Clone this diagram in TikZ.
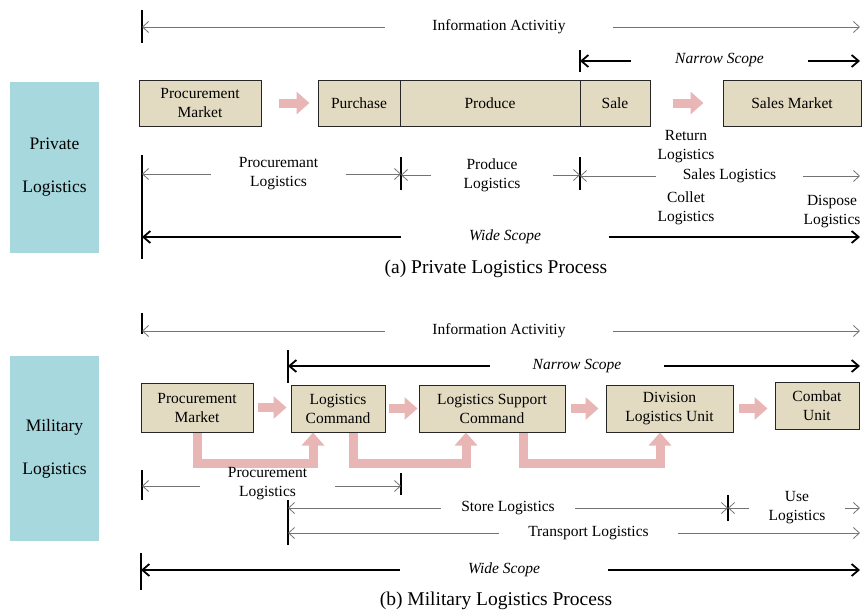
\documentclass[tikz,border=0pt]{standalone}
\usepackage{fontspec}
\setmainfont{Liberation Serif}
\usetikzlibrary{arrows.meta}
\definecolor{beige}{HTML}{E3DBC1}
\definecolor{tealbg}{HTML}{A6D8DE}
\definecolor{pinkarr}{HTML}{E9B6B6}
\newcommand\dfont{\fontsize{15.5}{19}\selectfont}
\newcommand\bigfont{\fontsize{17.5}{43}\selectfont}
\newcommand\capfont{\fontsize{19.5}{22}\selectfont}
\begin{document}
\begin{tikzpicture}[x=1pt,y=-1pt,
  box/.style={draw=black!85, line width=1pt, fill=beige, inner sep=0pt, align=center, font=\dfont},
  lab/.style={inner sep=0pt, align=center, font=\dfont},
  itlab/.style={inner sep=0pt, align=center, font=\dfont\itshape},
  sidebox/.style={fill=tealbg, inner sep=0pt, align=center, font=\bigfont, minimum width=89pt},
  dim/.style={draw=black!55, line width=0.8pt, -{Straight Barb[length=6pt,width=11pt]}},
  scopeline/.style={draw=black, line width=1.8pt, -{Straight Barb[length=7pt,width=12pt]}},
  tickline/.style={draw=black, line width=1.1pt},
  parr/.style={draw=pinkarr, line width=9pt, -{Triangle[length=13pt,width=22pt]}, line join=miter}
]
\useasboundingbox (0,0) rectangle (862,611);

% ================= (a) Private =================
\node[sidebox, minimum height=171pt] (priv) at (54.5,167.5) {Private\\Logistics};

% boxes
\node[box, minimum width=122pt, minimum height=46pt] (pm1) at (200,103) {Procurement\\Market};
\node[box, minimum width=82pt, minimum height=46pt] (pur) at (359,103) {Purchase};
\node[box, minimum width=180pt, minimum height=46pt] (pro) at (490,103) {Produce};
\node[box, minimum width=70pt, minimum height=46pt] (sal) at (615,103) {Sale};
\node[box, minimum width=138pt, minimum height=46pt] (sm) at (792,103) {Sales Market};

\draw[parr, shorten <=17pt, shorten >=8pt] (pm1.east) -- (pur.west);
\draw[parr, shorten <=22pt, shorten >=19pt] (sal.east) -- (sm.west);

% ticks
\draw[tickline] (142,10) -- (142,43);
\draw[tickline] (580,50) -- (580,72);
\draw[tickline] (142,155) -- (142,259);
\draw[tickline] (401,157) -- (401,190);
\draw[tickline] (580,157) -- (580,190);

% Information activity
\coordinate (a1L) at (142,27); \coordinate (a1R) at (860,27);
\node[lab, minimum width=228pt] (t1) at (499,27) {Information Activitiy};
\draw[dim] (t1.west) -- (a1L); \draw[dim] (t1.east) -- (a1R);

% Narrow scope
\coordinate (a2L) at (580,61); \coordinate (a2R) at (860,61);
\node[itlab, minimum width=177pt] (t2) at (719.5,60) {Narrow Scope};
\draw[scopeline] (t2.west|-a2L) -- (a2L); \draw[scopeline] (t2.east|-a2R) -- (a2R);

% Procuremant logistics
\coordinate (a3L) at (142,174); \coordinate (a3R) at (401,174);
\node[lab, minimum width=135pt] (t3) at (278.5,174) {Procuremant\\Logistics};
\draw[dim] (t3.west) -- (a3L); \draw[dim] (t3.east) -- (a3R);

% Produce logistics
\coordinate (a4L) at (401,175); \coordinate (a4R) at (580,175);
\node[lab, minimum width=121pt] (t4) at (492,175) {Produce\\Logistics};
\draw[dim] (t4.west) -- (a4L); \draw[dim] (t4.east) -- (a4R);

% Sales logistics
\coordinate (a5L) at (580,176); \coordinate (a5R) at (860,176);
\node[lab, minimum width=147pt] (t5) at (729.5,176) {Sales Logistics};
\draw[dim] (t5.west) -- (a5L); \draw[dim] (t5.east) -- (a5R);
\node[lab] (ret) at (686,147) {Return\\Logistics};
\node[lab] (col) at (686,208) {Collet\\Logistics};
\node[lab] (dis) at (832,212) {Dispose\\Logistics};

% Wide scope
\coordinate (a6L) at (142,237); \coordinate (a6R) at (860,237);
\node[itlab, minimum width=208pt] (t6) at (505,237) {Wide Scope};
\draw[scopeline] (t6.west) -- (a6L); \draw[scopeline] (t6.east) -- (a6R);

\node[inner sep=0pt, font=\capfont] (capa) at (496,269) {(a) Private Logistics Process};

% ================= (b) Military =================
\node[sidebox, minimum height=185pt] (mil) at (54.5,448.5) {Military\\Logistics};

\node[box, minimum width=112pt, minimum height=49pt] (pm2) at (197,407.5) {Procurement\\Market};
\node[box, minimum width=94pt, minimum height=47pt] (lc) at (338,408.5) {Logistics\\Command};
\node[box, minimum width=146pt, minimum height=47pt] (lsc) at (492,408.5) {Logistics Support\\Command};
\node[box, minimum width=127pt, minimum height=47pt] (dlu) at (669.5,408.5) {Division\\Logistics Unit};
\node[box, minimum width=84pt, minimum height=47pt] (cu) at (817,405.5) {Combat\\Unit};

\draw[parr, shorten <=4pt, shorten >=4pt] (pm2.east) -- (pm2.east -| lc.west);
\draw[parr, shorten <=3pt, shorten >=1pt] (lc.east) -- (lsc.west);
\draw[parr, shorten <=5pt, shorten >=7pt] (lsc.east) -- (dlu.west);
\draw[parr, shorten <=5pt, shorten >=7pt] (dlu.east) -- (dlu.east -| cu.west);

\draw[parr, shorten <=0.5pt] (pm2.south) -- ++(0,31) -| ([xshift=-25pt]lc.south);
\draw[parr, shorten <=0.5pt] ([xshift=15pt]lc.south) -- ++(0,31) -| ([xshift=-26pt]lsc.south);
\draw[parr, shorten <=0.5pt] ([xshift=31pt]lsc.south) -- ++(0,31) -| ([xshift=-9.5pt]dlu.south);

% ticks
\draw[tickline] (142,313) -- (142,334);
\draw[tickline] (288,350) -- (288,383);
\draw[tickline] (142,470) -- (142,500);
\draw[tickline] (401,473) -- (401,495);
\draw[tickline] (288,500) -- (288,545);
\draw[tickline] (728,495) -- (728,521);
\draw[tickline] (141,553) -- (141,590);

% Information activity
\coordinate (b1L) at (142,331); \coordinate (b1R) at (860,331);
\node[lab, minimum width=228pt] (u1) at (499,331) {Information Activitiy};
\draw[dim] (u1.west) -- (b1L); \draw[dim] (u1.east) -- (b1R);

% Narrow scope
\coordinate (b2L) at (288,366); \coordinate (b2R) at (860,366);
\node[itlab, minimum width=174pt] (u2) at (577,366) {Narrow Scope};
\draw[scopeline] (u2.west|-b2L) -- (b2L); \draw[scopeline] (u2.east|-b2R) -- (b2R);

% Procurement logistics
\coordinate (b3L) at (142,486); \coordinate (b3R) at (401,486);
\node[lab, minimum width=135pt] (u3) at (267.5,484) {Procurement\\Logistics};
\draw[dim] (u3.west|-b3L) -- (b3L); \draw[dim] (u3.east|-b3R) -- (b3R);

% Store logistics
\coordinate (b4L) at (288,508); \coordinate (b4R) at (728,508);
\node[lab, minimum width=134pt] (u4) at (508,508) {Store Logistics};
\draw[dim] (u4.west) -- (b4L); \draw[dim] (u4.east) -- (b4R);

% Use logistics
\coordinate (b5L) at (728,508); \coordinate (b5R) at (860,508);
\node[lab, minimum width=96pt] (u5) at (797,508) {Use\\Logistics};
\draw[dim] (u5.west) -- (b5L); \draw[dim] (u5.east) -- (b5R);

% Transport logistics
\coordinate (b6L) at (288,533); \coordinate (b6R) at (860,533);
\node[lab, minimum width=179pt] (u6) at (588.5,533) {Transport Logistics};
\draw[dim] (u6.west) -- (b6L); \draw[dim] (u6.east) -- (b6R);

% Wide scope
\coordinate (b7L) at (141,570); \coordinate (b7R) at (860,570);
\node[itlab, minimum width=208pt] (u7) at (504,570) {Wide Scope};
\draw[scopeline] (u7.west) -- (b7L); \draw[scopeline] (u7.east) -- (b7R);

\node[inner sep=0pt, font=\capfont] (capb) at (496,601) {(b) Military Logistics Process};
\end{tikzpicture}
\end{document}
